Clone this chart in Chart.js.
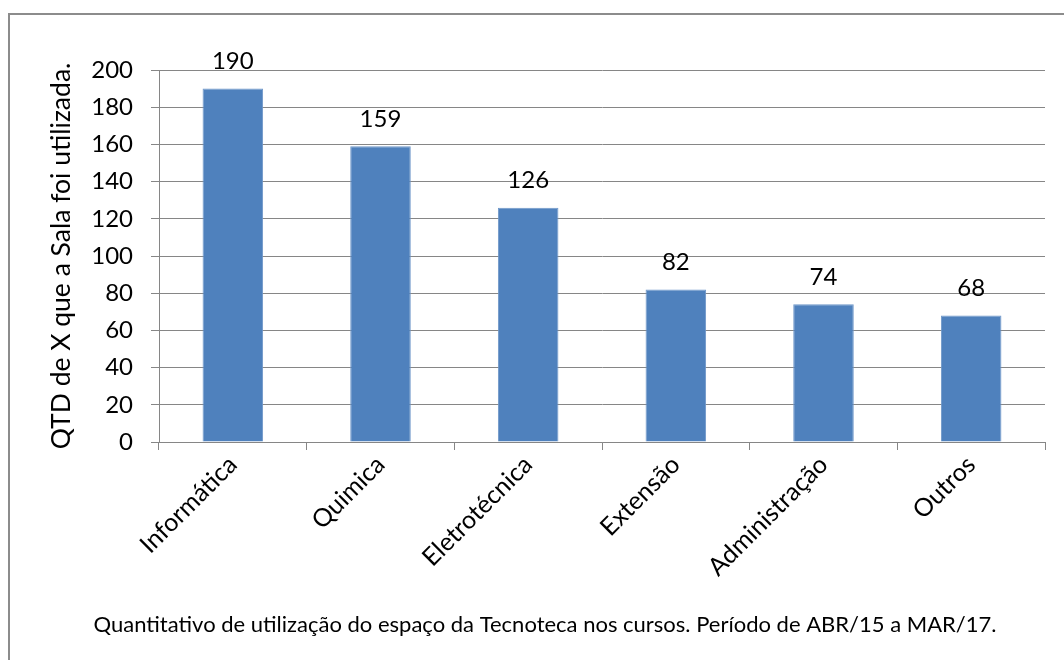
<!DOCTYPE html>
<html>
<head>
<meta charset="utf-8">
<script src="https://cdn.jsdelivr.net/npm/chart.js@4"></script>
<style>
  html, body { margin:0; padding:0; background:#fff; }
  #wrap { width:1064px; height:660px; position:relative; }
</style>
</head>
<body>
<div id="wrap"><canvas id="c" width="1064" height="660"></canvas></div>
<script>
// data
const CURSOS  = ['Informática', 'Quimica', 'Eletrotécnica', 'Extensão', 'Administração', 'Outros'];
const USOS    = [190, 159, 126, 82, 74, 68];
const Y_TITLE = 'QTD de X que a Sala foi utilizada.';
const CAPTION = 'Quantitativo de utilização do espaço da Tecnoteca nos cursos. Período de ABR/15 a MAR/17.';

const FONT = 'Lato, "Open Sans", sans-serif';
const AXIS_GRAY = '#868686';

// outer frame + caption
const frame = {
  id: 'frame',
  beforeDraw(chart) {
    const ctx = chart.ctx;
    ctx.save();
    ctx.fillStyle = '#fff';
    ctx.fillRect(0, 0, chart.width, chart.height);
    ctx.strokeStyle = '#8c8c8c';
    ctx.lineWidth = 2;
    ctx.strokeRect(9, 14, chart.width + 10, chart.height + 10);
    ctx.restore();
  },
  afterDraw(chart) {
    const ctx = chart.ctx;
    ctx.save();
    ctx.fillStyle = '#000';
    ctx.font = '22px ' + FONT;
    ctx.textAlign = 'center';
    ctx.textBaseline = 'middle';
    ctx.fillText(CAPTION, 545, 625);
    ctx.restore();
  }
};

// value labels above each bar
const valueLabels = {
  id: 'valueLabels',
  afterDatasetsDraw(chart) {
    const ctx = chart.ctx;
    const meta = chart.getDatasetMeta(0);
    ctx.save();
    ctx.fillStyle = '#000';
    ctx.font = '24px ' + FONT;
    ctx.textAlign = 'center';
    ctx.textBaseline = 'middle';
    meta.data.forEach((bar, i) => {
      ctx.fillText(String(USOS[i]), bar.x, bar.y - 27);
    });
    ctx.restore();
  }
};

new Chart(document.getElementById('c'), {
  type: 'bar',
  data: {
    labels: CURSOS,
    datasets: [{
      data: USOS,
      backgroundColor: '#4F81BD',
      borderColor: '#6F97C9',
      borderWidth: 1,
      barPercentage: 0.41,
      categoryPercentage: 1,
    }]
  },
  options: {
    responsive: false,
    animation: false,
    devicePixelRatio: 1,
    layout: { padding: { top: 70, right: 19, left: 0, bottom: 0 } },
    plugins: { legend: { display: false }, tooltip: { enabled: false } },
    scales: {
      x: {
        afterFit: s => { s.height = 218; },
        grid: { display: true, drawOnChartArea: false, color: AXIS_GRAY, tickLength: 8, offset: true },
        border: { color: AXIS_GRAY, width: 1 },
        ticks: {
          color: '#000', font: { family: FONT, size: 25 },
          maxRotation: 45, minRotation: 45, padding: 0, autoSkip: false,
        },
      },
      y: {
        min: 0, max: 200,
        afterFit: s => { s.width = 159; },
        grid: { color: AXIS_GRAY, tickLength: 8 },
        border: { color: AXIS_GRAY, width: 1 },
        ticks: { stepSize: 20, color: '#000', font: { family: FONT, size: 24 }, padding: 18 },
        title: {
          display: true, text: Y_TITLE, color: '#000',
          font: { family: FONT, size: 26.5 }, padding: { top: 46, bottom: 0 },
        },
      },
    },
  },
  plugins: [frame, valueLabels],
});
</script>
</body>
</html>
